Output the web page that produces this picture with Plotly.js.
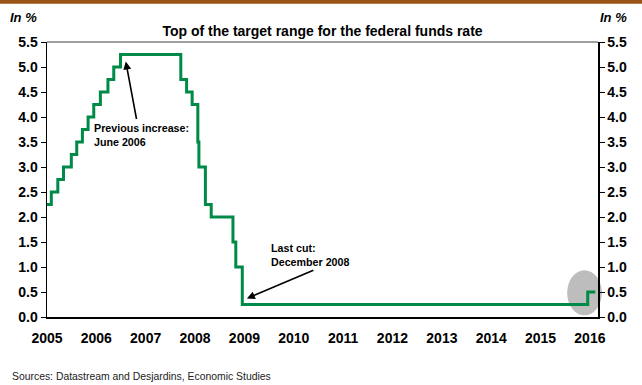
<!DOCTYPE html>
<html>
<head>
<meta charset="utf-8">
<script src="https://cdn.plot.ly/plotly-3.0.1.min.js"></script>
<style>
html,body{margin:0;padding:0;background:#fff;}
#chart{width:642px;height:385px;}
</style>
</head>
<body>
<div id="chart"></div>
<script>
// Dates of changes to the top of the FOMC target range, and the new level (%)
const changeDates = ['2005-01-01','2005-02-02','2005-03-22','2005-05-03','2005-06-30','2005-08-09','2005-09-20','2005-11-01','2005-12-13','2006-01-31','2006-03-28','2006-05-10','2006-06-29','2007-09-18','2007-10-31','2007-12-11','2008-01-22','2008-01-30','2008-03-18','2008-04-30','2008-10-08','2008-10-29','2008-12-16','2015-12-16','2016-02-10'];
const rateTop = [2.25,2.50,2.75,3.00,3.25,3.50,3.75,4.00,4.25,4.50,4.75,5.00,5.25,4.75,4.50,4.25,3.50,3.00,2.25,2.00,1.50,1.00,0.25,0.50,0.50];
const yearTicks = ['2005-01-01','2006-01-01','2007-01-01','2008-01-01','2009-01-01','2010-01-01','2011-01-01','2012-01-01','2013-01-01','2014-01-01','2015-01-01','2016-01-01'];
const yearLabels = ['2005','2006','2007','2008','2009','2010','2011','2012','2013','2014','2015','2016'];
const yTicks = [0,0.5,1,1.5,2,2.5,3,3.5,4,4.5,5,5.5];

const F = 'Arial, "Liberation Sans", sans-serif';

const traces = [{
  x: changeDates, y: rateTop, type: 'scatter', mode: 'lines',
  line: {shape: 'hv', color: '#008a47', width: 3},
  hoverinfo: 'skip', showlegend: false
}, {
  x: changeDates, y: rateTop, type: 'scatter', mode: 'lines', yaxis: 'y2',
  line: {shape: 'hv', color: 'rgba(0,0,0,0)', width: 0},
  hoverinfo: 'skip', showlegend: false
}];

const yCommon = {
  range: [0, 5.5], tickvals: yTicks, tickformat: '.1f',
  ticks: 'outside', ticklen: 5, tickwidth: 1, tickcolor: '#000',
  showline: true, linecolor: '#000', linewidth: 1.5,
  showgrid: false, zeroline: false, fixedrange: true,
  tickfont: {family: F, size: 14, color: '#000', weight: 'bold'}
};

const layout = {
  width: 642, height: 385,
  margin: {l: 47, r: 44, t: 42, b: 68},
  paper_bgcolor: '#fff', plot_bgcolor: '#fff',
  showlegend: false,
  title: {text: '<b>Top of the target range for the federal funds rate</b>',
          font: {family: F, size: 14, color: '#000'}, x: 0.5, xanchor: 'center', y: 0.92, yanchor: 'middle', xref: 'paper'},
  xaxis: {
    type: 'date', range: ['2005-01-01', '2016-03-01'],
    tickvals: yearTicks, ticktext: yearLabels, ticks: '', ticklabelstandoff: 8,
    showline: true, linecolor: '#000', linewidth: 1.5,
    showgrid: false, zeroline: false, fixedrange: true,
    tickfont: {family: F, size: 14, color: '#000', weight: 'bold'}
  },
  yaxis: Object.assign({}, yCommon, {side: 'left'}),
  yaxis2: Object.assign({}, yCommon, {side: 'right', overlaying: 'y', anchor: 'x'}),
  shapes: [
    {type: 'rect', xref: 'paper', yref: 'paper', x0: -0.2, x1: 1.2, y0: 1.139, y1: 1.2, fillcolor: '#9a5418', line: {width: 0}, layer: 'below'},
    {type: 'line', xref: 'paper', yref: 'paper', x0: 0, x1: 1, y0: 1, y1: 1, line: {color: '#7f7f7f', width: 1.5}},
    {type: 'circle', xref: 'paper', yref: 'paper', x0: 0.944, x1: 1.007, y0: 0.006, y1: 0.17, fillcolor: '#bdbdbd', line: {width: 0}, layer: 'below'}
  ],
  annotations: [
    {xref: 'paper', yref: 'paper', x: -0.07, y: 1.09, xanchor: 'left', yanchor: 'middle', showarrow: false,
     text: '<b><i>In %</i></b>', font: {family: F, size: 13, color: '#000'}},
    {xref: 'paper', yref: 'paper', x: 1.0, y: 1.09, xanchor: 'left', yanchor: 'middle', showarrow: false,
     text: '<b><i>In %</i></b>', font: {family: F, size: 13, color: '#000'}},
    {xref: 'paper', yref: 'paper', x: 0.082, y: 0.718, xanchor: 'left', yanchor: 'top', align: 'left', showarrow: false,
     text: '<b>Previous increase:<br>June 2006</b>', font: {family: F, size: 10.7, color: '#000'}},
    {xref: 'paper', yref: 'paper', x: 0.402, y: 0.279, xanchor: 'left', yanchor: 'top', align: 'left', showarrow: false,
     text: '<b>Last cut:<br>December 2008</b>', font: {family: F, size: 10.7, color: '#000'}},
    {xref: 'x', yref: 'y', x: '2006-08-07', y: 5.11, ax: 11, ay: 59, text: '', showarrow: true,
     arrowhead: 2, arrowsize: 1, arrowwidth: 1.6, arrowcolor: '#000', standoff: 0},
    {xref: 'x', yref: 'y', x: '2009-01-19', y: 0.37, ax: 68, ay: -29, text: '', showarrow: true,
     arrowhead: 2, arrowsize: 1, arrowwidth: 1.6, arrowcolor: '#000', standoff: 0},
    {xref: 'paper', yref: 'paper', x: -0.067, y: -0.215, xanchor: 'left', yanchor: 'middle', showarrow: false,
     text: 'Sources: Datastream and Desjardins, Economic Studies', font: {family: F, size: 10.4, color: '#222'}}
  ]
};

Plotly.newPlot('chart', traces, layout, {displayModeBar: false, staticPlot: true});
</script>
</body>
</html>
